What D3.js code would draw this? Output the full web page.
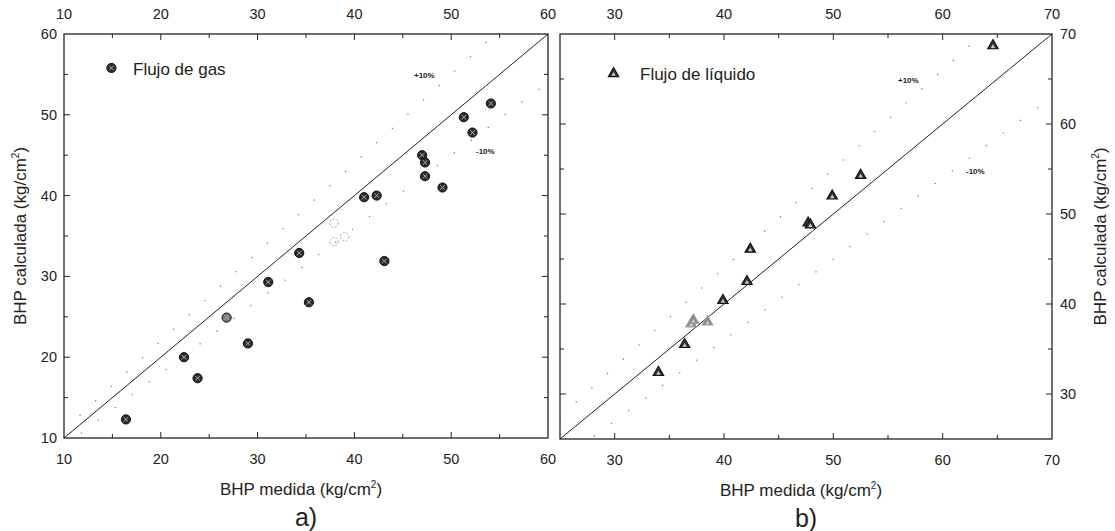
<!DOCTYPE html>
<html><head><meta charset="utf-8">
<script src="https://cdn.jsdelivr.net/npm/d3@7"></script>
<style>body{margin:0;background:#fff}svg{display:block;font-family:"Liberation Sans",Arial,sans-serif}</style>
</head><body>
<svg id="c" width="1115" height="531"></svg>
<script>
// ---- data ----
const gasMedida   = [16.4, 22.4, 23.8, 26.8, 29.0, 31.1, 34.3, 35.3, 41.0, 42.3, 43.1, 47.0, 47.3, 47.3, 49.1, 51.3, 52.2, 54.1];
const gasCalc     = [12.3, 20.0, 17.4, 24.9, 21.7, 29.3, 32.9, 26.8, 39.8, 40.0, 31.9, 45.0, 44.1, 42.4, 41.0, 49.7, 47.8, 51.4];
const gasFaintMedida = [37.9, 39.0, 37.9];
const gasFaintCalc   = [34.3, 34.9, 36.6];
const liqMedida   = [34.0, 36.4, 37.0, 37.2, 38.5, 39.9, 42.1, 42.4, 47.7, 47.9, 49.9, 52.5, 64.6];
const liqCalc     = [32.4, 35.5, 37.8, 38.2, 38.0, 40.4, 42.5, 46.1, 49.0, 48.8, 52.0, 54.3, 68.7];
const ticksA = [10, 20, 30, 40, 50, 60];
const ticksB = [30, 40, 50, 60, 70];
const domainA = [10, 60];
const domainB = [25, 70];
const bandFactors = [1.1, 0.9];
const bandLabels = ["+10%", "-10%"];
const legendA = "Flujo de gas";
const legendB = "Flujo de líquido";
const titleX = "BHP medida (kg/cm";
const titleY = "BHP calculada (kg/cm";
const panelLabels = ["a)", "b)"];

const svg = d3.select("#c");

function panel(opt) {
  const x = d3.scaleLinear().domain(opt.domain).range([opt.x0, opt.x1]);
  const y = d3.scaleLinear().domain(opt.domain).range([opt.y1, opt.y0]);
  const g = svg.append("g");
  const minor = d3.range(Math.ceil(opt.domain[0] / 5) * 5, opt.domain[1] + 0.001, 5);

  g.append("rect").attr("x", opt.x0).attr("y", opt.y0)
    .attr("width", opt.x1 - opt.x0).attr("height", opt.y1 - opt.y0)
    .attr("fill", "none").attr("stroke", "#222").attr("stroke-width", 1.3);

  minor.forEach(v => {
    const major = v % 10 === 0;
    const L = major ? 6 : 4;
    if (v > opt.domain[0] && v < opt.domain[1]) {
      g.append("line").attr("x1", x(v)).attr("x2", x(v)).attr("y1", opt.y1).attr("y2", opt.y1 - L).attr("stroke", "#222");
      g.append("line").attr("x1", x(v)).attr("x2", x(v)).attr("y1", opt.y0).attr("y2", opt.y0 + L).attr("stroke", "#222");
      g.append("line").attr("y1", y(v)).attr("y2", y(v)).attr("x1", opt.x0).attr("x2", opt.x0 + L).attr("stroke", "#222");
      g.append("line").attr("y1", y(v)).attr("y2", y(v)).attr("x1", opt.x1).attr("x2", opt.x1 - L).attr("stroke", "#222");
    }
  });

  const fs = 14.5;
  opt.ticks.forEach(v => {
    g.append("text").attr("x", x(v)).attr("y", opt.y1 + 26).attr("text-anchor", "middle")
      .attr("font-size", fs).attr("fill", "#222").text(v);
    g.append("text").attr("x", x(v)).attr("y", 19).attr("text-anchor", "middle")
      .attr("font-size", fs).attr("fill", "#222").text(v);
    if (opt.side === "left") {
      g.append("text").attr("x", opt.x0 - 7).attr("y", y(v) + 5).attr("text-anchor", "end")
        .attr("font-size", fs).attr("fill", "#222").text(v);
    } else {
      g.append("text").attr("x", opt.x1 + 8).attr("y", y(v) + 5).attr("text-anchor", "start")
        .attr("font-size", fs).attr("fill", "#222").text(v);
    }
  });

  const cid = "clip" + opt.side;
  svg.append("clipPath").attr("id", cid).append("rect")
    .attr("x", opt.x0).attr("y", opt.y0).attr("width", opt.x1 - opt.x0).attr("height", opt.y1 - opt.y0);
  const pg = g.append("g").attr("clip-path", `url(#${cid})`);

  pg.append("line").attr("x1", x(opt.domain[0])).attr("y1", y(opt.domain[0]))
    .attr("x2", x(opt.domain[1])).attr("y2", y(opt.domain[1])).attr("stroke", "#222").attr("stroke-width", 1);

  bandFactors.forEach(f => {
    pg.append("line").attr("x1", x(opt.domain[0])).attr("y1", y(opt.domain[0] * f))
      .attr("x2", x(opt.domain[1])).attr("y2", y(opt.domain[1] * f))
      .attr("stroke", "#666").attr("stroke-width", 1.1).attr("stroke-dasharray", "1.2 20");
  });
  bandLabels.forEach((t, i) => {
    g.append("text").attr("x", opt.bandLabelPos[i][0]).attr("y", opt.bandLabelPos[i][1])
      .attr("font-size", 8).attr("font-weight", "bold").attr("fill", "#222").text(t);
  });

  const cx = (opt.x0 + opt.x1) / 2;
  const tx = g.append("text").attr("x", cx - 5).attr("y", opt.y1 + 57).attr("text-anchor", "middle")
    .attr("font-size", 17).attr("fill", "#222");
  tx.append("tspan").text(titleX);
  tx.append("tspan").attr("font-size", 10).attr("dy", -7).text("2");
  tx.append("tspan").attr("dy", 7).text(")");

  const tyX = opt.side === "left" ? 26 : 1106;
  const ty = g.append("text").attr("transform", `translate(${tyX},${(opt.y0 + opt.y1) / 2}) rotate(-90)`)
    .attr("text-anchor", "middle").attr("font-size", 17).attr("fill", "#222");
  ty.append("tspan").text(titleY);
  ty.append("tspan").attr("font-size", 10).attr("dy", -7).text("2");
  ty.append("tspan").attr("dy", 7).text(")");

  g.append("text").attr("x", cx).attr("y", opt.y1 + 88).attr("text-anchor", "middle")
    .attr("font-size", 25).attr("fill", "#222").text(opt.panelLabel);

  return { x, y, g: pg, lg: g };
}

function circleMark(sel, cx, cy, col) {
  sel.append("circle").attr("cx", cx).attr("cy", cy).attr("r", 4.6)
    .attr("fill", col).attr("stroke", "#111").attr("stroke-width", 1);
  sel.append("path").attr("d", `M${cx - 2.3},${cy - 2.3}L${cx + 2.3},${cy + 2.3}M${cx - 2.3},${cy + 2.3}L${cx + 2.3},${cy - 2.3}`)
    .attr("stroke", "#bbb").attr("stroke-width", 0.9);
}
function triMark(sel, cx, cy, col, stroke) {
  const p = d3.symbol().type(d3.symbolTriangle).size(48)();
  sel.append("path").attr("d", p).attr("transform", `translate(${cx},${cy})`)
    .attr("fill", col).attr("stroke", stroke).attr("stroke-width", 1.1);
  sel.append("path").attr("d", d3.symbol().type(d3.symbolTriangle).size(8)())
    .attr("transform", `translate(${cx},${cy + 1})`).attr("fill", "#ccc");
}

const A = panel({ domain: domainA, ticks: ticksA, x0: 64, x1: 548, y0: 34, y1: 438, side: "left",
  bandLabelPos: [[414, 78], [476, 154]], panelLabel: panelLabels[0] });
gasFaintMedida.forEach((v, i) => {
  A.g.append("circle").attr("cx", A.x(v)).attr("cy", A.y(gasFaintCalc[i])).attr("r", 4.2)
    .attr("fill", "none").attr("stroke", "#aaa").attr("stroke-width", 1).attr("stroke-dasharray", "2 1.5");
});
gasMedida.forEach((v, i) => {
  circleMark(A.g, A.x(v), A.y(gasCalc[i]), i === 3 ? "#777" : "#2a2a2a");
});
circleMark(A.lg, A.x(14.9), A.y(55.8), "#2a2a2a");
A.lg.append("text").attr("x", 133).attr("y", 75).attr("font-size", 17).attr("fill", "#222").text(legendA);

const B = panel({ domain: domainB, ticks: ticksB, x0: 560, x1: 1052, y0: 34, y1: 439, side: "right",
  bandLabelPos: [[898, 83], [966, 174]], panelLabel: panelLabels[1] });
liqMedida.forEach((v, i) => {
  const faint = (i >= 2 && i <= 4);
  triMark(B.g, B.x(v), B.y(liqCalc[i]), faint ? "#888" : "#333", faint ? "#999" : "#111");
});
triMark(B.lg, B.x(29.9), B.y(65.6), "#333", "#111");
B.lg.append("text").attr("x", 640).attr("y", 80).attr("font-size", 17).attr("fill", "#222").text(legendB);
</script>
</body></html>
